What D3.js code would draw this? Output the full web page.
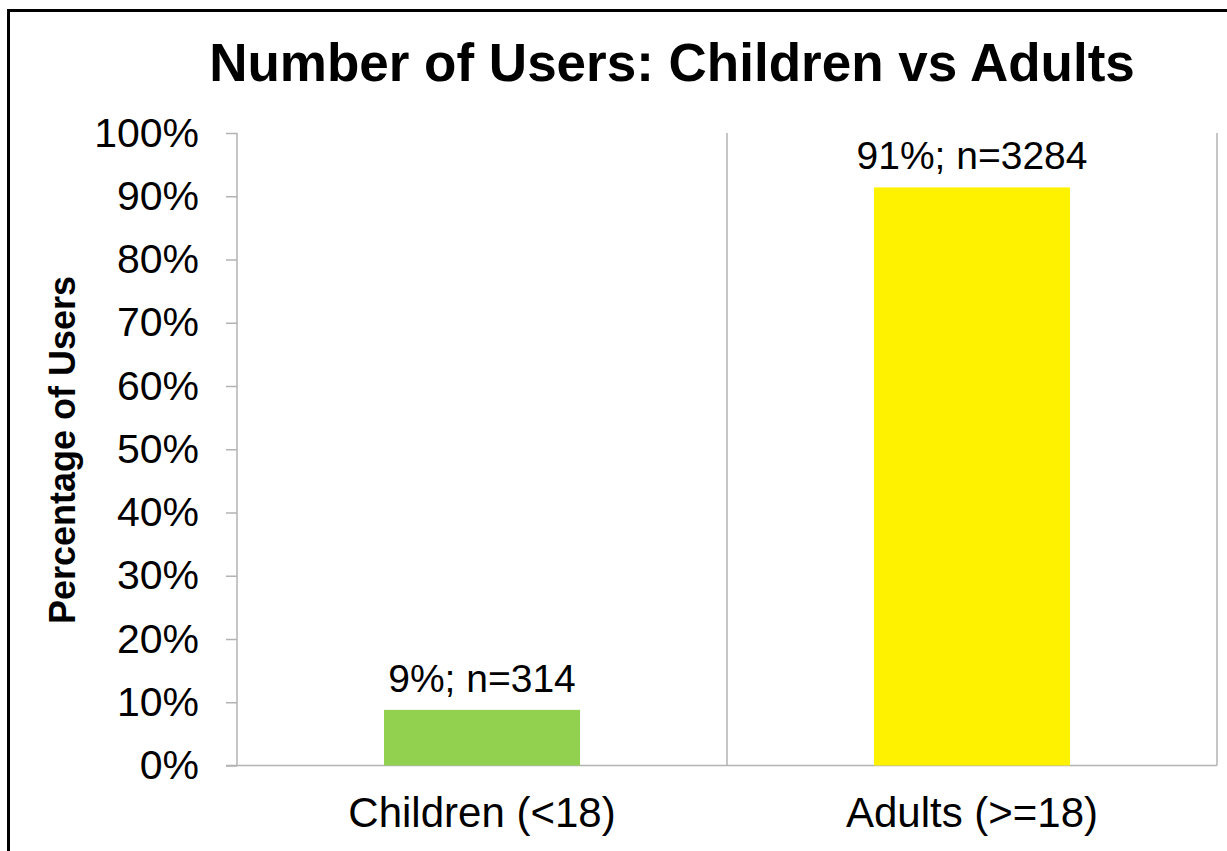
<!DOCTYPE html>
<html>
<head>
<meta charset="utf-8">
<script src="https://cdn.jsdelivr.net/npm/d3@7"></script>
<style>
  html, body { margin: 0; padding: 0; background: #fff; }
  svg { display: block; }
  text { font-family: "Liberation Sans", Arial, sans-serif; fill: #000; }
</style>
</head>
<body>
<div id="fig"></div>
<script>
var categories = ["Children (<18)", "Adults (>=18)"];
var values = [8.8, 91.4];
var labels = ["9%; n=314", "91%; n=3284"];
var colors = ["#92d050", "#fff200"];
var yTicks = [0, 10, 20, 30, 40, 50, 60, 70, 80, 90, 100];

var width = 1227, height = 851;
var plotL = 237, plotR = 1217, plotT = 133, plotB = 765.5;
var gridCol = "#b3b3b3";

var svg = d3.select("div#fig")
  .append("svg")
    .attr("width", width)
    .attr("height", height);

// outer chart border (runs off the right and bottom edges)
svg.append("rect")
  .attr("x", 8.5).attr("y", 10.5)
  .attr("width", 1240).attr("height", 900)
  .attr("fill", "none")
  .attr("stroke", "#000")
  .attr("stroke-width", 3);

svg.append("text")
  .attr("x", 672).attr("y", 81)
  .attr("text-anchor", "middle")
  .style("font-size", "53px")
  .style("font-weight", "bold")
  .text("Number of Users: Children vs Adults");

var x = d3.scaleBand()
  .domain(categories)
  .range([plotL, plotR])
  .paddingInner(0.6)
  .paddingOuter(0.3);

var y = d3.scaleLinear()
  .domain([0, 100])
  .range([plotB, plotT]);

// vertical gridlines on category boundaries
var step = x.step();
svg.selectAll("line.vgrid")
  .data(categories)
  .enter().append("line")
    .attr("class", "vgrid")
    .attr("x1", function(d) { return x(d) - step * 0.3 + step; })
    .attr("x2", function(d) { return x(d) - step * 0.3 + step; })
    .attr("y1", y(100))
    .attr("y2", y(0))
    .attr("stroke", gridCol)
    .attr("stroke-width", 1.5);

// y axis
var yAxis = svg.append("g")
  .attr("transform", "translate(" + plotL + ",0)")
  .call(d3.axisLeft(y)
    .tickValues(yTicks)
    .tickSize(11)
    .tickPadding(27)
    .tickFormat(function(d) { return d + "%"; }));
yAxis.select(".domain")
  .attr("stroke", gridCol)
  .attr("stroke-width", 1.5)
  .attr("d", "M0," + y(100) + "V" + y(0));
yAxis.selectAll(".tick line").attr("stroke", gridCol).attr("stroke-width", 1.5);
yAxis.selectAll(".tick text")
  .style("font-size", "41px")
  .style("font-family", "'Liberation Sans', Arial, sans-serif")
  .attr("fill", "#000");

// x axis line
svg.append("line")
  .attr("x1", plotL - 11).attr("x2", plotR)
  .attr("y1", y(0)).attr("y2", y(0))
  .attr("stroke", gridCol)
  .attr("stroke-width", 1.5);

// bars
svg.selectAll("rect.bar")
  .data(values)
  .enter().append("rect")
    .attr("class", "bar")
    .attr("x", function(d, i) { return x(categories[i]); })
    .attr("width", x.bandwidth())
    .attr("y", function(d) { return y(d); })
    .attr("height", function(d) { return y(0) - y(d); })
    .attr("fill", function(d, i) { return colors[i]; });

// value labels
svg.selectAll("text.vlab")
  .data(values)
  .enter().append("text")
    .attr("class", "vlab")
    .attr("x", function(d, i) { return x(categories[i]) + x.bandwidth() / 2; })
    .attr("y", function(d) { return y(d) - 18; })
    .attr("text-anchor", "middle")
    .style("font-size", "39px")
    .text(function(d, i) { return labels[i]; });

// category labels
svg.selectAll("text.clab")
  .data(categories)
  .enter().append("text")
    .attr("class", "clab")
    .attr("x", function(d) { return x(d) + x.bandwidth() / 2; })
    .attr("y", 827)
    .attr("text-anchor", "middle")
    .style("font-size", "42px")
    .text(function(d) { return d; });

// y axis title
svg.append("text")
  .attr("transform", "translate(75,450) rotate(-90)")
  .attr("text-anchor", "middle")
  .style("font-size", "36px")
  .style("font-weight", "bold")
  .text("Percentage of Users");
</script>
</body>
</html>
